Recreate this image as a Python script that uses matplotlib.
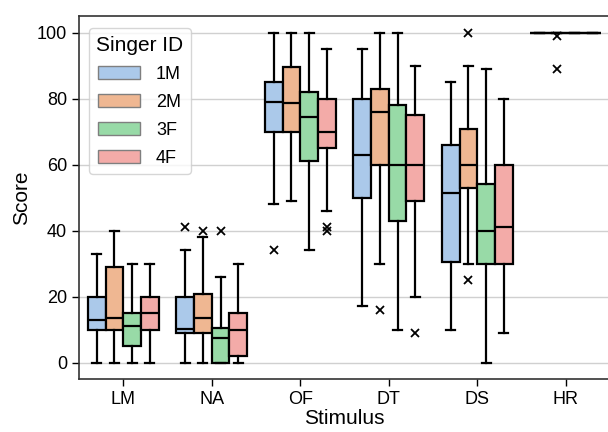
import matplotlib
matplotlib.use("Agg")
import matplotlib.pyplot as plt
import matplotlib.patches as mpatches
import seaborn as sns

stimuli = ["LM", "NA", "OF", "DT", "DS", "HR"]
singers = ["1M", "2M", "3F", "4F"]

# per singer: lists over stimuli
whislo = {
    "1M": [0, 0, 48, 17, 10, 100],
    "2M": [0, 0, 49, 30, 30, 100],
    "3F": [0, 0, 34, 10, 0, 100],
    "4F": [0, 0, 46, 20, 9, 100],
}
q1 = {
    "1M": [10, 9, 70, 50, 30.5, 100],
    "2M": [10, 9, 70, 60, 53, 100],
    "3F": [5, 0, 61, 43, 30, 100],
    "4F": [10, 2, 65, 49, 30, 100],
}
med = {
    "1M": [13, 10.3, 79, 63, 51.5, 100],
    "2M": [13.5, 13.5, 78.5, 76, 60, 100],
    "3F": [11, 7.5, 74.5, 60, 40, 100],
    "4F": [15, 10, 70, 60, 41, 100],
}
q3 = {
    "1M": [20, 20, 85, 80, 66, 100],
    "2M": [29, 20.7, 89.5, 83, 70.7, 100],
    "3F": [15, 10.5, 82, 78, 54, 100],
    "4F": [20, 15, 80, 75, 60, 100],
}
whishi = {
    "1M": [33, 34, 100, 95, 85, 100],
    "2M": [40, 38, 100, 100, 90, 100],
    "3F": [30, 26, 100, 100, 89, 100],
    "4F": [30, 30, 95, 90, 80, 100],
}
fliers = {
    "1M": [[], [41], [34], [], [], []],
    "2M": [[], [40], [], [16], [100, 25], [99, 89]],
    "3F": [[], [40], [], [], [], []],
    "4F": [[], [], [40, 41], [9], [], []],
}

pal = sns.color_palette("pastel", 4)
colors = [sns.desaturate(c, 0.75) for c in pal]

plt.rcParams["font.family"] = ["Liberation Sans", "DejaVu Sans"]

fig = plt.figure(figsize=(6.08, 4.32), dpi=100)
ax = fig.add_axes([79 / 608, 1 - 379 / 432, 531 / 608, 363 / 432])

ax.yaxis.grid(True, color="#d0d0d0", linewidth=1.0, zorder=0)
ax.set_axisbelow(True)

bw = 0.2
offsets = [-0.3, -0.1, 0.1, 0.3]
for si, s in enumerate(singers):
    stats = []
    positions = []
    for i, st in enumerate(stimuli):
        stats.append(dict(med=med[s][i], q1=q1[s][i], q3=q3[s][i],
                          whislo=whislo[s][i], whishi=whishi[s][i],
                          fliers=fliers[s][i], label=st))
        positions.append(i + offsets[si])
    ax.bxp(stats, positions=positions, widths=bw, patch_artist=True,
           showfliers=True, manage_ticks=False,
           capwidths=[bw * 0.5] * len(stats),
           boxprops=dict(facecolor=colors[si], edgecolor="black", linewidth=1.6),
           medianprops=dict(color="black", linewidth=1.6),
           whiskerprops=dict(color="black", linewidth=1.6),
           capprops=dict(color="black", linewidth=1.6),
           flierprops=dict(marker="x", markeredgecolor="black", markersize=5.5,
                           markeredgewidth=1.3, linestyle="none"))

ax.set_xlim(-0.5, 5.5)
ax.set_ylim(-5, 105)
ax.set_xticks(range(len(stimuli)))
ax.set_xticklabels(stimuli)
ax.set_yticks([0, 20, 40, 60, 80, 100])
ax.tick_params(axis="both", labelsize=13, length=5, width=1.0, direction="out")
ax.set_xlabel("Stimulus", fontsize=15, labelpad=1)
ax.set_ylabel("Score", fontsize=15, labelpad=4)
for sp in ax.spines.values():
    sp.set_color("#333333")
    sp.set_linewidth(1.2)

handles = [mpatches.Patch(facecolor=colors[i], edgecolor="#7f7f7f", label=s)
           for i, s in enumerate(singers)]
leg = ax.legend(handles=handles, title="Singer ID", loc="upper left",
                fontsize=13, title_fontsize=15, handlelength=2.3,
                handleheight=0.8, handletextpad=0.9, borderpad=0.4,
                labelspacing=0.6, frameon=True, fancybox=True,
                bbox_to_anchor=(0.0, 0.993), borderaxespad=0.55)
leg.get_frame().set_edgecolor("#cccccc")

fig.savefig("out.png", dpi=100)
